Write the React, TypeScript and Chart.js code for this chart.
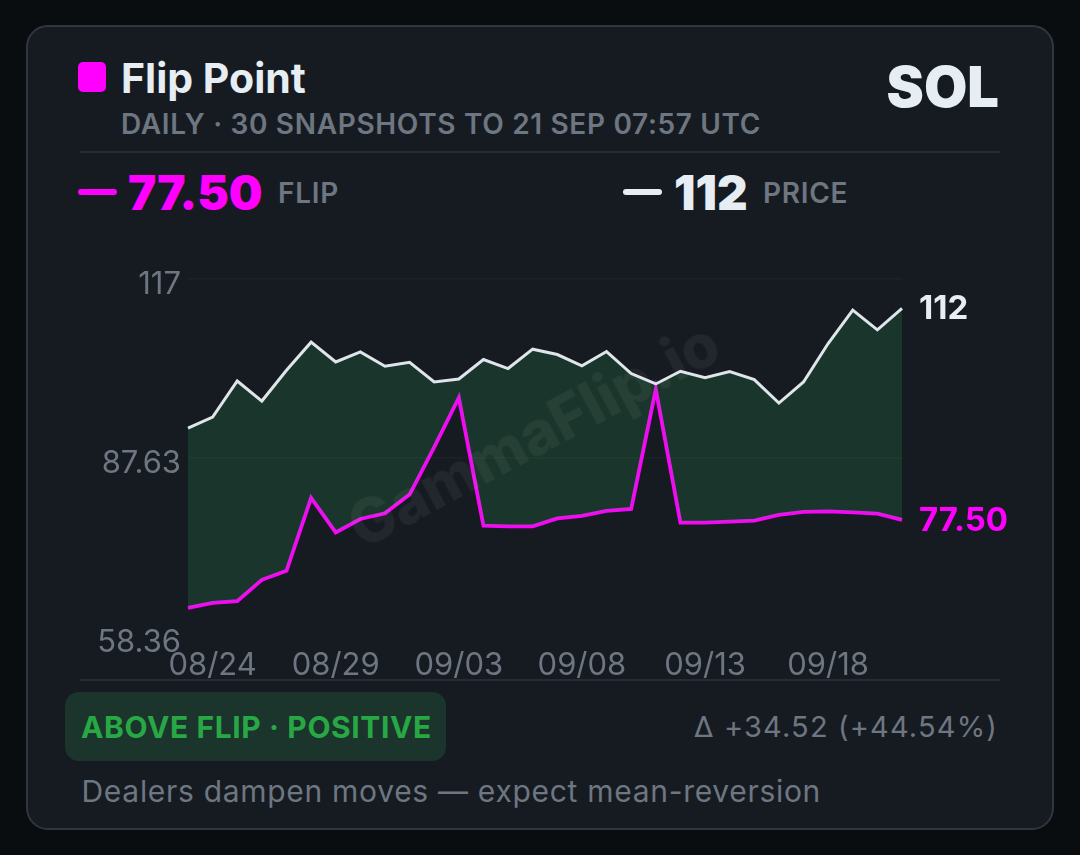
import React, { useEffect, useRef } from "react";
import { Chart, registerables } from "chart.js";

Chart.register(...registerables);

const dates = [
  "08/23", "08/24", "08/25", "08/26", "08/27", "08/28", "08/29", "08/30", "08/31", "09/01",
  "09/02", "09/03", "09/04", "09/05", "09/06", "09/07", "09/08", "09/09", "09/10", "09/11",
  "09/12", "09/13", "09/14", "09/15", "09/16", "09/17", "09/18", "09/19", "09/20", "09/21",
];
const shownDates = ["08/24", "08/29", "09/03", "09/08", "09/13", "09/18"];
const priceValues = [
  92.48, 94.28, 100.18, 96.9, 101.93, 106.52, 103.29, 104.93, 102.59, 103.24,
  100.01, 100.51, 103.68, 102.21, 105.37, 104.5, 102.64, 104.99, 101.39, 99.69,
  101.77, 100.73, 101.72, 100.41, 96.57, 100.01, 106.3, 111.76, 108.53, 112.02,
];
const flipValues = [
  63.11, 63.93, 64.21, 67.7, 69.17, 81.08, 75.44, 77.64, 78.56, 81.62,
  89.37, 97.46, 76.54, 76.43, 76.43, 77.74, 78.13, 78.95, 79.28, 98.82,
  77.03, 77.03, 77.2, 77.36, 78.29, 78.79, 78.88, 78.72, 78.51, 77.5,
];
const yTicks = [58.36, 87.63, 116.9];

const FONT = "Inter, sans-serif";
const MUTED = "#6e7681";
const LIGHT = "#e6edf3";
const MAGENTA = "#ff00ff";
const GREEN = "#28a745";
const GREEN_BG = "rgba(46, 160, 80, 0.2)";

// last value of each line, written just right of the plot
const endLabels = {
  id: "endLabels",
  afterDatasetsDraw(chart: Chart) {
    const { ctx } = chart;
    ctx.save();
    ctx.font = `700 33px ${FONT}`;
    ctx.textBaseline = "middle";
    chart.data.datasets.forEach((ds, i) => {
      const pts = chart.getDatasetMeta(i).data;
      const last = pts[pts.length - 1];
      const val = ds.data[pts.length - 1] as number;
      ctx.fillStyle = i === 0 ? LIGHT : MAGENTA;
      ctx.fillText(val >= 100 ? val.toFixed(0) : val.toFixed(2), last.x + 17, last.y + 1);
    });
    ctx.restore();
  },
};

function Label(props: { x: number; y: number; size: number; weight: number; color: string; spacing?: number; right?: number; children: React.ReactNode }) {
  // y is the vertical centre of the text
  const { x, y, size, weight, color, spacing, right, children } = props;
  return (
    <div
      style={{
        position: "absolute",
        left: right === undefined ? x : undefined,
        right: right === undefined ? undefined : 1080 - right,
        top: y - size,
        height: size * 2,
        lineHeight: `${size * 2}px`,
        fontSize: size,
        fontWeight: weight,
        color,
        letterSpacing: spacing,
        whiteSpace: "nowrap",
      }}
    >
      {children}
    </div>
  );
}

function Box(props: { x: number; y: number; w: number; h: number; color: string; radius?: number }) {
  return (
    <div
      style={{
        position: "absolute",
        left: props.x,
        top: props.y,
        width: props.w,
        height: props.h,
        background: props.color,
        borderRadius: props.radius || 0,
      }}
    />
  );
}

export default function App() {
  const chartRef = useRef<HTMLCanvasElement>(null);

  useEffect(() => {
    if (!chartRef.current) return;
    document.body.style.margin = "0";
    document.body.style.background = "#0a0d10";

    const chart = new Chart(chartRef.current, {
      type: "line",
      data: {
        labels: dates,
        datasets: [
          {
            label: "Price",
            data: priceValues,
            borderColor: "#dfe5ea",
            borderWidth: 3,
            pointRadius: 0,
            tension: 0,
            fill: { target: 1, above: GREEN_BG, below: "transparent" },
          },
          {
            label: "Flip",
            data: flipValues,
            borderColor: MAGENTA,
            borderWidth: 3.8,
            pointRadius: 0,
            tension: 0,
            fill: false,
          },
        ],
      },
      options: {
        animation: false,
        responsive: false,
        layout: { padding: { top: 11, right: 118, bottom: 0, left: 0 } },
        plugins: { legend: { display: false }, tooltip: { enabled: false } },
        scales: {
          x: {
            offset: false,
            grid: { display: false },
            border: { display: false },
            afterFit: (scale) => {
              scale.height = 43;
            },
            ticks: {
              autoSkip: false,
              maxRotation: 0,
              minRotation: 0,
              padding: 2,
              color: MUTED,
              font: { family: FONT, size: 31 },
              callback(value) {
                const label = dates[value as number];
                return shownDates.includes(label) ? label : "";
              },
            },
          },
          y: {
            min: yTicks[0],
            max: yTicks[2],
            afterBuildTicks: (scale) => {
              scale.ticks = yTicks.map((value) => ({ value }));
            },
            afterFit: (scale) => {
              scale.width = 98;
            },
            grid: {
              drawTicks: false,
              lineWidth: 1.5,
              color: (c) => (c.tick && c.tick.value === yTicks[0] ? "transparent" : "rgba(255,255,255,0.03)"),
            },
            border: { display: false },
            ticks: {
              padding: 7,
              labelOffset: 6,
              color: MUTED,
              font: { family: FONT, size: 31 },
              callback: (value) => ((value as number) >= 100 ? (value as number).toFixed(0) : (value as number).toFixed(2)),
            },
          },
        },
      },
      plugins: [endLabels],
    });

    return () => {
      chart.destroy();
    };
  }, []);

  return (
    <div style={{ position: "relative", width: 1080, height: 855, overflow: "hidden", background: "#0a0d10", fontFamily: FONT }}>
      <div
        style={{
          position: "absolute",
          left: 26,
          top: 25,
          width: 1028,
          height: 805,
          boxSizing: "border-box",
          background: "#161b22",
          border: "2px solid #30363d",
          borderRadius: 22,
        }}
      />

      <Box x={78} y={62} w={28} h={30} color={MAGENTA} radius={5} />
      <Label x={121} y={78} size={41} weight={700} color={LIGHT}>Flip Point</Label>
      <Label x={121} y={124} size={28} weight={600} color={MUTED} spacing={0.67}>DAILY · 30 SNAPSHOTS TO 21 SEP 07:57 UTC</Label>
      <Label x={0} right={999} y={87} size={56} weight={900} color={LIGHT}>SOL</Label>
      <Box x={80} y={151} w={920} h={2} color="#262c36" />

      <Box x={78} y={189} w={39} h={6} color={MAGENTA} radius={3} />
      <Label x={128} y={192} size={47.5} weight={900} color={MAGENTA}>77.50</Label>
      <Label x={278} y={193} size={28} weight={600} color={MUTED} spacing={0.7}>FLIP</Label>
      <Box x={623} y={189} w={39} h={6} color={LIGHT} radius={3} />
      <Label x={674} y={192} size={47.5} weight={900} color={LIGHT}>112</Label>
      <Label x={763} y={193} size={28} weight={600} color={MUTED} spacing={0.7}>PRICE</Label>

      <canvas ref={chartRef} width={930} height={427} style={{ position: "absolute", left: 90, top: 253, width: 930, height: 427 }} />
      <div
        style={{
          position: "absolute",
          left: 329,
          top: 396,
          width: 400,
          height: 80,
          lineHeight: "80px",
          textAlign: "center",
          fontSize: 60,
          fontWeight: 800,
          color: "rgba(255,255,255,0.05)",
          transform: "rotate(-28deg)",
          whiteSpace: "nowrap",
        }}
      >
        GammaFlip.io
      </div>

      <Box x={80} y={679} w={920} h={2} color="#262c36" />
      <Box x={65} y={692} w={381} h={69} color="#1b352c" radius={14} />
      <Label x={81} y={727} size={30} weight={700} color={GREEN} spacing={0.6}>ABOVE FLIP · POSITIVE</Label>
      <Label x={0} right={998} y={727} size={29} weight={400} color={MUTED} spacing={1.15}>Δ +34.52 (+44.54%)</Label>
      <Label x={81.5} y={791} size={30} weight={400} color={MUTED} spacing={0.7}>Dealers dampen moves — expect mean-reversion</Label>
    </div>
  );
}
